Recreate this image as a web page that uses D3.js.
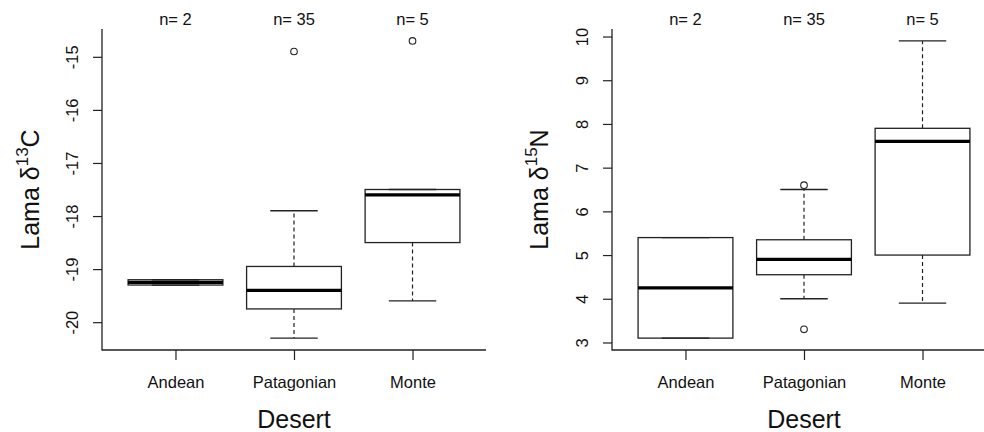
<!DOCTYPE html>
<html>
<head>
<meta charset="utf-8">
<script src="https://cdn.jsdelivr.net/npm/d3@7"></script>
<style>
  body { margin: 0; background: #fff; }
  svg { display: block; }
  svg text { font-family: "Liberation Sans", Arial, sans-serif; }
</style>
</head>
<body>
<div id="chart"></div>
<script>
// categories and sample sizes
const deserts = ["Andean", "Patagonian", "Monte"];
const counts = [2, 35, 5];

// d13C box stats
const carbonLow = [-19.3, -20.3, -19.6];
const carbonQ1 = [-19.3, -19.75, -18.5];
const carbonMed = [-19.25, -19.4, -17.6];
const carbonQ3 = [-19.2, -18.95, -17.5];
const carbonHigh = [-19.2, -17.9, -17.5];
const carbonOut = [[], [-14.9], [-14.7]];
const carbonTicks = [-20, -19, -18, -17, -16, -15];

// d15N box stats
const nitroLow = [3.1, 4.0, 3.9];
const nitroQ1 = [3.1, 4.55, 5.0];
const nitroMed = [4.25, 4.9, 7.6];
const nitroQ3 = [5.4, 5.35, 7.9];
const nitroHigh = [5.4, 6.5, 9.9];
const nitroOut = [[], [6.6, 3.3], []];
const nitroTicks = [3, 4, 5, 6, 7, 8, 9, 10];

const W = 984, H = 432;
const svg = d3.select("#chart").append("svg")
    .attr("width", W).attr("height", H);

const ink = "#222";
const font = "Liberation Sans, Arial, sans-serif";

function drawPanel(left, lo, q1, med, q3, hi, out, ticks, element, labelX) {
    const top = 29, bottom = 350, plotW = 384;

    const allVals = lo.concat(hi, out.flat());
    const ext = d3.extent(allVals);
    const pad = (ext[1] - ext[0]) * 0.04;
    const y = d3.scaleLinear().domain([ext[0] - pad, ext[1] + pad]).range([bottom, top]);
    const x = d3.scaleLinear().domain([0.38, 3.62]).range([left, left + plotW]);
    const unit = x(1) - x(0);

    const g = svg.append("g");

    // L-shaped frame
    g.append("path")
        .attr("d", `M${left},${top}V${bottom}H${left + plotW}`)
        .attr("fill", "none").attr("stroke", ink).attr("stroke-width", 1.3);

    // y axis
    const yAxis = g.append("g")
        .attr("transform", `translate(${left},0)`)
        .call(d3.axisLeft(y).tickValues(ticks).tickSize(9).tickFormat(d3.format("d")))
        .attr("font-family", font);
    yAxis.select(".domain").remove();
    yAxis.selectAll(".tick line").attr("stroke", ink).attr("stroke-width", 1.2);
    yAxis.selectAll(".tick text")
        .attr("transform", "rotate(-90)")
        .attr("x", 0).attr("y", -24.5).attr("dy", 0)
        .attr("text-anchor", "middle")
        .attr("font-size", 16.5).attr("fill", "#111")
        .text(d => d < 0 ? "-" + Math.abs(d) : d);

    // x axis
    const xAxis = g.append("g")
        .attr("transform", `translate(0,${bottom})`)
        .call(d3.axisBottom(x).tickValues([1, 2, 3]).tickSize(10).tickFormat(i => deserts[i - 1]))
        .attr("font-family", font);
    xAxis.select(".domain").remove();
    xAxis.selectAll(".tick line").attr("stroke", ink).attr("stroke-width", 1.2);
    xAxis.selectAll(".tick text")
        .attr("y", 38).attr("dy", 0)
        .attr("font-size", 16.5).attr("fill", "#111");

    // n= labels
    g.selectAll(".nlab").data(counts).join("text")
        .attr("x", (d, i) => x(i + 1)).attr("y", 25)
        .attr("text-anchor", "middle").attr("font-size", 16.5).attr("fill", "#111")
        .text(d => "n= " + d);

    deserts.forEach((name, i) => {
        const cx = x(i + 1), bw = unit * 0.8, cw = unit * 0.4;
        const bg = g.append("g").attr("stroke", ink).attr("fill", "none");
        // whiskers
        bg.append("line").attr("x1", cx).attr("x2", cx).attr("y1", y(q3[i])).attr("y2", y(hi[i]))
            .attr("stroke-width", 1.2).attr("stroke-dasharray", "4,3");
        bg.append("line").attr("x1", cx).attr("x2", cx).attr("y1", y(q1[i])).attr("y2", y(lo[i]))
            .attr("stroke-width", 1.2).attr("stroke-dasharray", "4,3");
        // caps
        [hi[i], lo[i]].forEach(v => {
            bg.append("line").attr("x1", cx - cw / 2).attr("x2", cx + cw / 2)
                .attr("y1", y(v)).attr("y2", y(v)).attr("stroke-width", 1.3);
        });
        // box
        bg.append("rect")
            .attr("x", cx - bw / 2).attr("width", bw)
            .attr("y", y(q3[i])).attr("height", y(q1[i]) - y(q3[i]))
            .attr("stroke-width", 1.3);
        // median
        bg.append("line").attr("x1", cx - bw / 2).attr("x2", cx + bw / 2)
            .attr("y1", y(med[i])).attr("y2", y(med[i]))
            .attr("stroke", "#000").attr("stroke-width", 3.2);
        // outliers
        bg.selectAll("circle").data(out[i]).join("circle")
            .attr("cx", cx).attr("cy", d => y(d)).attr("r", 3.3)
            .attr("stroke-width", 1.1);
    });

    // axis titles
    g.append("text")
        .attr("x", x(2)).attr("y", 428)
        .attr("text-anchor", "middle").attr("font-size", 25).attr("fill", "#111")
        .text("Desert");

    const yl = g.append("text")
        .attr("transform", `translate(${labelX},${(top + bottom) / 2}) rotate(-90)`)
        .attr("text-anchor", "middle").attr("font-size", 25).attr("fill", "#111");
    yl.append("tspan").text("Lama δ");
    yl.append("tspan").attr("font-size", 17).attr("dy", -11).text(element[0]);
    yl.append("tspan").attr("dy", 11).text(element[1]);
}

drawPanel(102, carbonLow, carbonQ1, carbonMed, carbonQ3, carbonHigh, carbonOut, carbonTicks, ["13", "C"], 39);
drawPanel(612, nitroLow, nitroQ1, nitroMed, nitroQ3, nitroHigh, nitroOut, nitroTicks, ["15", "N"], 548);
</script>
</body>
</html>
